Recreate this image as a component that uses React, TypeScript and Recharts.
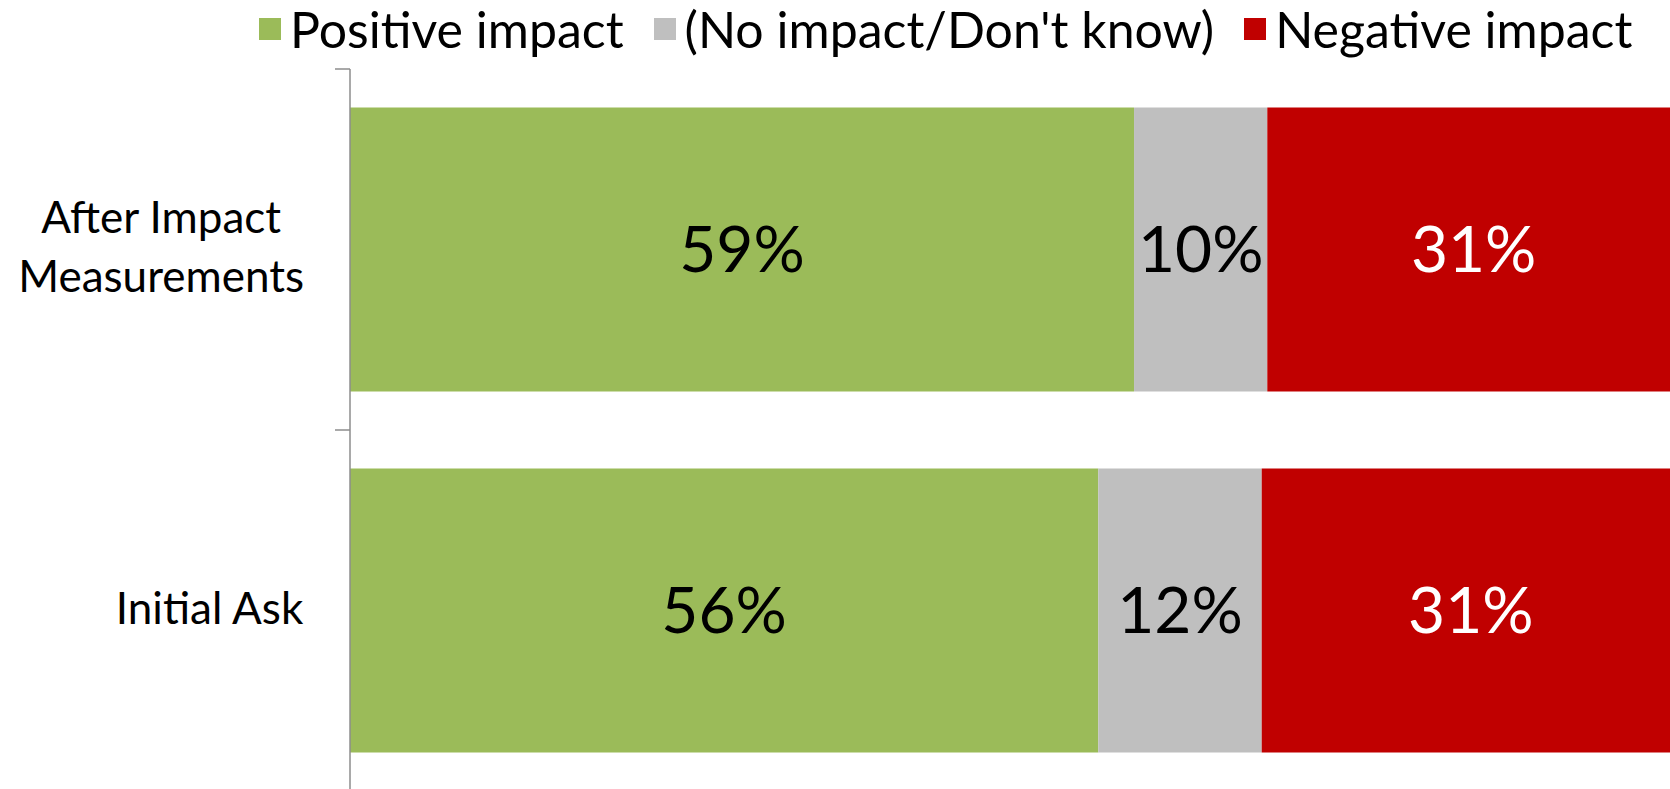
import { BarChart, Bar, XAxis, YAxis, Legend, LabelList } from 'recharts'

const categories = ['After Impact Measurements', 'Initial Ask']
const categoryLines = [['After Impact', 'Measurements'], ['Initial Ask']]
const positive = [58.95, 56.26]
const neutral = [10.02, 12.29]
const negative = [31.03, 31.45]

const seriesNames = ['Positive impact', "(No impact/Don't know)", 'Negative impact']
const colors = ['#9BBB59', '#BFBFBF', '#C00000']

const data = categories.map((name, i) => ({
  name,
  positive: positive[i],
  neutral: neutral[i],
  negative: negative[i],
}))

const FONT = 'Lato, "Open Sans", sans-serif'

let ctx: CanvasRenderingContext2D | null = null
function textWidth(s: string, size: number) {
  if (!ctx) ctx = document.createElement('canvas').getContext('2d')
  if (!ctx) return s.length * size * 0.5
  ctx.font = `${size}px Lato`
  return ctx.measureText(s).width
}

const CategoryTick = (props: any) => {
  const { x, y, payload, index } = props
  const half = payload.offset || 180.5
  const idx = categories.indexOf(payload.value)
  const lines = categoryLines[idx >= 0 ? idx : index] || [String(payload.value)]
  const size = 44
  const lineH = 59
  const right = x - 46
  const maxW = Math.max(...lines.map((l) => textWidth(l, size)))
  const cx = right - maxW / 2
  const first = y + 13 - ((lines.length - 1) * lineH) / 2
  return (
    <g>
      <line x1={x - 15} x2={x} y1={y - half} y2={y - half} stroke="#8C8C8C" strokeWidth={1.5} />
      {index === categories.length - 1 && (
        <line x1={x - 15} x2={x} y1={y + half} y2={y + half} stroke="#8C8C8C" strokeWidth={1.5} />
      )}
      {lines.map((l, i) => (
        <text key={i} x={cx} y={first + i * lineH} textAnchor="middle" fontFamily={FONT} fontSize={size} fill="#000">
          {l}
        </text>
      ))}
    </g>
  )
}

const renderLegend = (props: any) => {
  const items = [...(props.payload || [])].sort(
    (a: any, b: any) => seriesNames.indexOf(a.value) - seriesNames.indexOf(b.value)
  )
  return (
    <div style={{ display: 'flex', alignItems: 'center', fontFamily: FONT, fontSize: 50, color: '#000' }}>
      {items.map((item: any) => (
        <div key={item.value} style={{ display: 'flex', alignItems: 'center', marginRight: 30 }}>
          <span style={{ display: 'inline-block', width: 22, height: 22, background: item.color, marginRight: 9 }} />
          <span>{item.value}</span>
        </div>
      ))}
    </div>
  )
}

const pct = (v: any) => `${Math.round(Number(v))}%`

export default function App() {
  return (
    <div style={{ position: 'fixed', left: 0, top: 0, width: 1670, height: 789, overflow: 'hidden', background: '#fff' }}>
      <BarChart
        width={1690}
        height={800}
        data={data}
        layout="vertical"
        margin={{ top: 69, right: 10, bottom: 9, left: 0 }}
        barCategoryGap="10.67%"
      >
        <XAxis type="number" domain={[0, 100]} hide />
        <YAxis
          type="category"
          dataKey="name"
          width={350}
          axisLine={{ stroke: '#8C8C8C', strokeWidth: 1.5 }}
          tickLine={false}
          tickSize={0}
          tickMargin={0}
          tick={<CategoryTick />}
          interval={0}
        />
        <Legend
          layout="horizontal"
          verticalAlign="middle"
          align="center"
          itemSorter={null as any}
          wrapperStyle={{ top: -1, left: 259, width: 1420 }}
          content={renderLegend}
        />
        <Bar dataKey="positive" stackId="a" name={seriesNames[0]} fill={colors[0]} isAnimationActive={false}>
          <LabelList dataKey="positive" position="center" formatter={pct} fill="#000" fontSize={64} fontFamily={FONT} />
        </Bar>
        <Bar dataKey="neutral" stackId="a" name={seriesNames[1]} fill={colors[1]} isAnimationActive={false}>
          <LabelList dataKey="neutral" position="center" formatter={pct} fill="#000" fontSize={64} fontFamily={FONT} />
        </Bar>
        <Bar dataKey="negative" stackId="a" name={seriesNames[2]} fill={colors[2]} isAnimationActive={false}>
          <LabelList dataKey="negative" position="center" formatter={pct} fill="#fff" fontSize={64} fontFamily={FONT} />
        </Bar>
      </BarChart>
    </div>
  )
}
